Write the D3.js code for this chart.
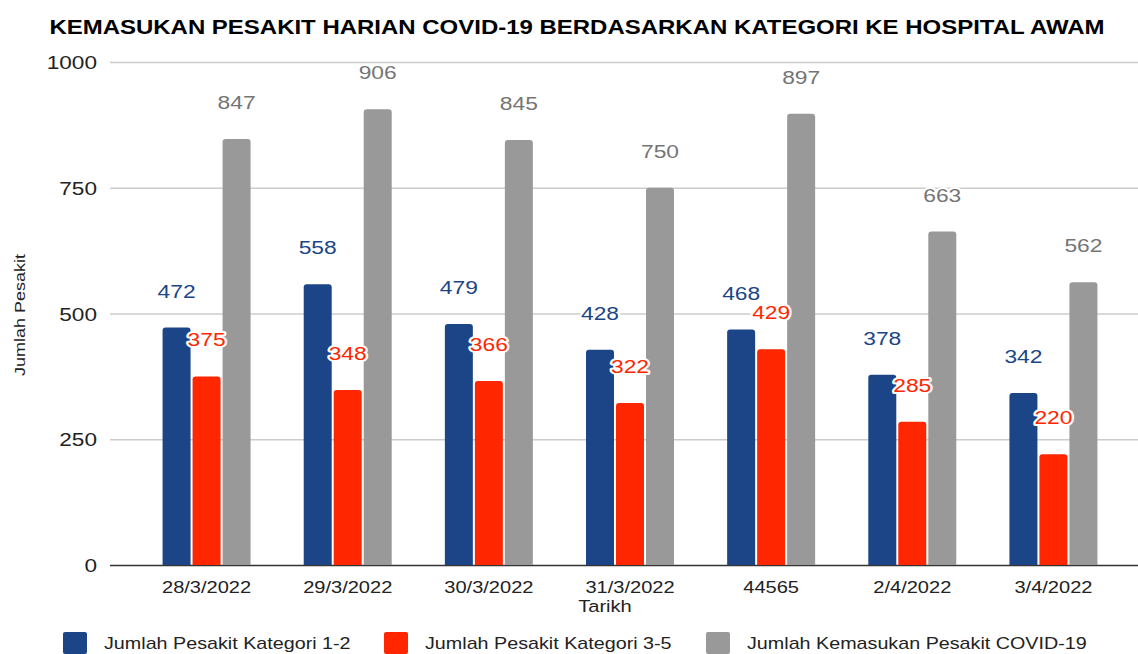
<!DOCTYPE html>
<html>
<head>
<meta charset="utf-8">
<script src="https://cdn.jsdelivr.net/npm/d3@7"></script>
<style>
  body { margin: 0; background: #fff; }
  svg { display: block; font-family: "Liberation Sans", Arial, sans-serif; }
</style>
</head>
<body>
<svg></svg>
<script>
// Data
const categories = ["28/3/2022", "29/3/2022", "30/3/2022", "31/3/2022", "44565", "2/4/2022", "3/4/2022"];
const seriesNames = ["Jumlah Pesakit Kategori 1-2", "Jumlah Pesakit Kategori 3-5", "Jumlah Kemasukan Pesakit COVID-19"];
const kategori12 = [472, 558, 479, 428, 468, 378, 342];
const kategori35 = [375, 348, 366, 322, 429, 285, 220];
const kemasukan = [847, 906, 845, 750, 897, 663, 562];
const yTicks = [0, 250, 500, 750, 1000];

const colors = ["#1c4587", "#ff2600", "#999999"];
const labelColors = ["#1c4587", "#ff2600", "#757575"];

// Sizes
const W = 1138, H = 654;
const svg = d3.select("svg").attr("width", W).attr("height", H);

// text in the original is a bit wider than Liberation Sans
const place = (x, y, sx) => `translate(${x},${y}) scale(${sx},1)`;

// Scales
const x0 = d3.scaleBand().domain(categories).range([136, 1124]);
const x1 = d3.scaleBand().domain(seriesNames).range([0, 88]).paddingInner(2 / 30);
const y = d3.scaleLinear().domain([0, 1000]).range([565, 62]);

// Title
svg.append("text")
  .attr("transform", place(577, 34, 1.23))
  .attr("text-anchor", "middle")
  .attr("font-size", 19.5).attr("font-weight", "bold")
  .attr("fill", "#000")
  .text("KEMASUKAN PESAKIT HARIAN COVID-19 BERDASARKAN KATEGORI KE HOSPITAL AWAM");

// y grid
svg.append("g")
  .attr("transform", "translate(110,0)")
  .call(d3.axisLeft(y).tickValues(yTicks).tickSize(-(W - 110)).tickFormat(""))
  .call(g => g.select(".domain").remove())
  .call(g => g.selectAll("line").attr("stroke", "#cccccc").attr("stroke-width", 1.3))
  .call(g => g.selectAll(".tick").filter(d => d === 0).select("line").attr("stroke", "#333").attr("stroke-width", 1.6));

// y tick labels
svg.append("g")
  .selectAll("text")
  .data(yTicks)
  .join("text")
  .attr("transform", d => place(97, y(d) + 7, 1.19))
  .attr("text-anchor", "end")
  .attr("font-size", 19).attr("fill", "#222")
  .text(d => d);

// y axis title
svg.append("text")
  .attr("transform", "translate(25,315) rotate(-90) scale(1.2,1)")
  .attr("text-anchor", "middle")
  .attr("font-size", 15).attr("fill", "#222")
  .text("Jumlah Pesakit");

// x tick labels
svg.append("g")
  .selectAll("text")
  .data(categories)
  .join("text")
  .attr("transform", d => place(x0(d) + x0.bandwidth() / 2, 593, 1.18))
  .attr("text-anchor", "middle")
  .attr("font-size", 17).attr("fill", "#222")
  .text(d => d);

svg.append("text")
  .attr("transform", place(605, 612, 1.18))
  .attr("text-anchor", "middle")
  .attr("font-size", 17).attr("fill", "#222")
  .text("Tarikh");

// Bars
const rows = categories.map((c, i) => ({
  cat: c,
  vals: [kategori12[i], kategori35[i], kemasukan[i]].map((v, k) => ({ key: seriesNames[k], k, v }))
}));

const groups = svg.append("g")
  .selectAll("g")
  .data(rows)
  .join("g")
  .attr("transform", d => `translate(${x0(d.cat) + x0.bandwidth() / 2 - 44},0)`);

groups.selectAll("path")
  .data(d => d.vals)
  .join("path")
  .attr("fill", d => colors[d.k])
  .attr("d", d => {
    const x = x1(d.key), w = x1.bandwidth(), t = y(d.v), b = y(0), r = 3;
    return `M${x},${b}V${t + r}Q${x},${t} ${x + r},${t}H${x + w - r}Q${x + w},${t} ${x + w},${t + r}V${b}Z`;
  });

// Value labels
groups.selectAll("text")
  .data(d => d.vals)
  .join("text")
  .attr("transform", d => place(x1(d.key) + x1.bandwidth() / 2, y(d.v) - 30, 1.2))
  .attr("text-anchor", "middle")
  .attr("font-size", 19)
  .attr("fill", d => labelColors[d.k])
  .attr("stroke", "#fff").attr("stroke-width", 4).attr("stroke-linejoin", "round")
  .attr("paint-order", "stroke")
  .text(d => d.v);

// Legend
const legendX = [63, 384, 706];
const legend = svg.append("g")
  .selectAll("g")
  .data(seriesNames)
  .join("g")
  .attr("transform", (d, i) => `translate(${legendX[i]},632)`);

legend.append("rect")
  .attr("width", 24).attr("height", 22).attr("rx", 2)
  .attr("fill", (d, i) => colors[i]);

legend.append("text")
  .attr("transform", place(41, 17, 1.16))
  .attr("font-size", 17).attr("fill", "#222")
  .text(d => d);
</script>
</body>
</html>
